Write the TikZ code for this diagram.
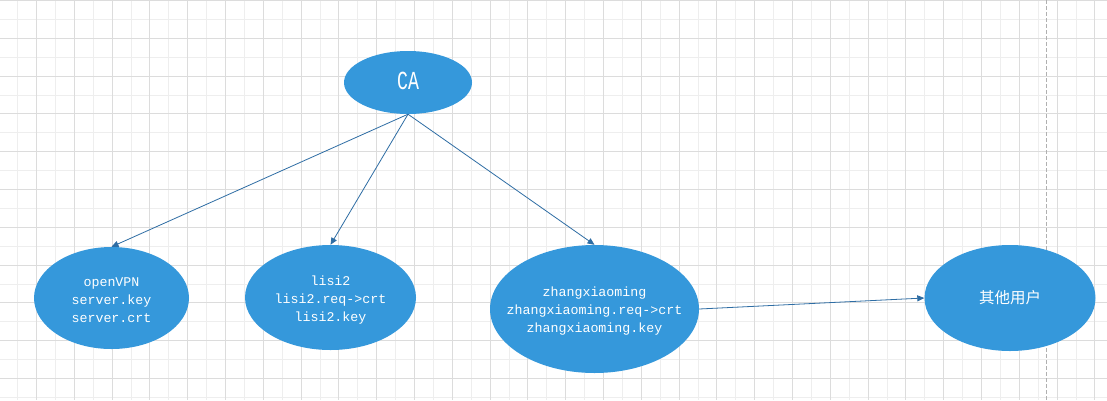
\documentclass[tikz,border=0pt]{standalone}
\usepackage{fontspec}
\usepackage{graphicx}
\setmonofont{Liberation Mono}
\newfontfamily\cjkfont{Noto Sans CJK SC}
\usetikzlibrary{shapes.geometric,arrows.meta}
\definecolor{nodeblue}{RGB}{53,152,219}
\definecolor{edgeblue}{RGB}{46,109,164}
\definecolor{gridlight}{RGB}{238,238,238}
\definecolor{griddark}{RGB}{220,220,220}
\definecolor{dashgray}{RGB}{176,176,176}
\begin{document}
\begin{tikzpicture}[x=1pt,y=-1pt,
  ent/.style={ellipse, fill=nodeblue, draw=none, inner sep=0pt},
  lbl/.style={text=white, font=\ttfamily\fontsize{13.3}{18}\selectfont, align=center, inner sep=0pt, yshift=-2.5pt},
  conn/.style={draw=edgeblue, line width=0.8pt, -{Triangle[length=7pt,width=6pt]}},
  glight/.style={draw=gridlight, line width=1pt},
  gdark/.style={draw=griddark, line width=1pt},
  ]
\fill[white] (0,0) rectangle (1107,400);
\useasboundingbox (0,0) rectangle (1107,400);
% grid
\foreach \i in {0,...,29} {
  \draw[glight] ({17.6+37.8*\i},0) -- ({17.6+37.8*\i},400);
}
\foreach \i in {0,...,10} {
  \draw[glight] (0,{19.4+37.8*\i}) -- (1107,{19.4+37.8*\i});
}
\foreach \i in {1,...,29} {
  \draw[gdark] ({-1.3+37.8*\i},0) -- ({-1.3+37.8*\i},400);
}
\foreach \i in {0,...,10} {
  \draw[gdark] (0,{0.5+37.8*\i}) -- (1107,{0.5+37.8*\i});
}
\draw[dashgray, line width=1pt, dash pattern=on 4pt off 2pt] (1046.5,0) -- (1046.5,400);
% nodes
\node[ent, minimum width=128, minimum height=63,
  label={[lbl, yshift=4pt]center:{\scalebox{0.7}[1]{\fontsize{26}{26}\selectfont CA}}}] (ca) at (408,82.5) {};
\node[ent, minimum width=155, minimum height=102,
  label={[lbl]center:{openVPN\\server.key\\server.crt}}] (vpn) at (111.5,298) {};
\node[ent, minimum width=171, minimum height=105,
  label={[lbl]center:{lisi2\\lisi2.req->crt\\lisi2.key}}] (lisi) at (330.5,297.5) {};
\node[ent, minimum width=209, minimum height=128,
  label={[lbl]center:{zhangxiaoming\\zhangxiaoming.req->crt\\zhangxiaoming.key}}] (zhang) at (594.5,309) {};
\node[ent, minimum width=171, minimum height=106,
  label={[lbl, yshift=2.5pt, font=\cjkfont\fontsize{15.5}{18}\selectfont]center:{其他用户}}] (other) at (1010,298) {};
% connectors
\draw[conn] (ca.south) -- (vpn.north);
\draw[conn] (ca.south) -- (lisi.north);
\draw[conn] (ca.south) -- (zhang.north);
\draw[conn] (zhang.east) -- (other.west);
\end{tikzpicture}
\end{document}
